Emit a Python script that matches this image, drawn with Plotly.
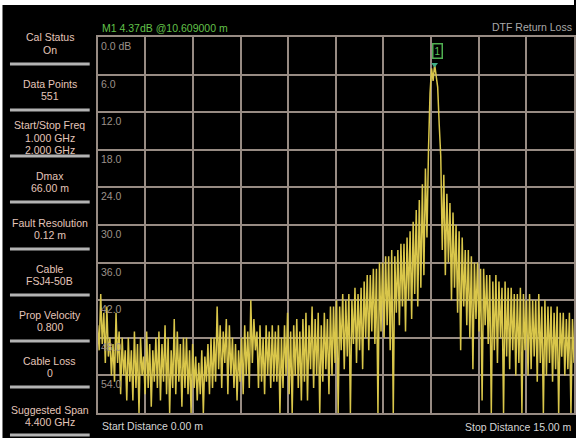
import numpy as np
import plotly.graph_objects as go

# ---------------- data ----------------
return_loss_db = [
    46, 50, 41, 49, 44, 52, 43, 51, 48, 54, 49, 55, 44, 52, 47, 57, 48, 54, 50, 58,
    48, 55, 50, 58, 47, 56, 49, 60, 48, 54, 51, 57, 47, 56, 49, 59, 50, 55,
    48, 56, 47, 58, 49, 55, 46, 57, 48, 60, 50, 56, 45, 57, 47, 55, 49, 59, 48, 56,
    48, 57, 50, 60, 49, 56, 51, 58, 52, 57, 50, 60, 51, 55, 49, 57, 48, 56,
    48, 55, 43, 53, 46, 56, 47, 52, 45, 57, 46, 54, 48, 56, 49, 58, 50, 55, 48, 57,
    46, 54, 47, 56, 42, 52, 45, 50, 47, 56, 46, 55, 48, 57, 46, 54, 47, 56, 46, 55,
    47, 55, 46, 60, 48, 56, 46, 54, 44, 57, 47, 60, 46, 54, 45, 56, 47, 58,
    45, 55, 44, 58, 46, 53, 43, 56, 45, 54, 44, 60, 46, 55, 44, 53, 45, 57, 43, 54,
    43, 52, 42, 60, 43, 50, 41, 53, 42, 51, 41, 60, 42, 49, 40, 52, 41, 50, 40, 53,
    39, 48, 38, 50, 38, 47, 37, 49, 37, 60, 36, 47, 36, 48, 35, 46, 35, 50, 34, 60,
    35, 44, 34, 46, 33, 43, 33, 47, 32, 42, 31, 45, 29.5, 41, 27.6, 43, 26, 40, 23.5, 38,
    21, 32, 18, 9, 5, 7, 4.37, 6, 8, 14, 19, 34, 22, 38, 25, 36, 26.5, 42, 28, 40,
    30, 44, 31, 50, 32, 43, 34, 46, 34, 48, 35, 53, 36, 45, 36, 47, 37, 58, 37, 46,
    38, 49, 38, 60, 39, 50, 38, 52, 39, 48, 40, 60, 39, 51, 40, 53, 40, 50, 41, 54,
    41, 52, 40, 60, 41, 50, 42, 54, 41, 53, 42, 51, 42, 55, 41, 52, 43, 60, 42, 54,
    43, 52, 43, 55, 44, 53, 43, 60, 44, 51, 44, 54, 45, 53, 44, 60, 45, 52,
]
start_distance_m = 0.0
stop_distance_m = 15.0
distance_m = np.linspace(start_distance_m, stop_distance_m, len(return_loss_db))

marker_distance_m = [10.609]
marker_loss_db = [4.37]

y_tick_values = [0, 6, 12, 18, 24, 30, 36, 42, 48, 54]
y_tick_labels = ["0.0 dB", "6.0", "12.0", "18.0", "24.0", "30.0", "36.0", "42.0", "48.0", "54.0"]

panel_titles = ["Cal Status", "Data Points", "Start/Stop Freq", "Dmax", "Fault Resolution",
                "Cable", "Prop Velocity", "Cable Loss", "Suggested Span"]
panel_values = [["On"], ["551"], ["1.000 GHz", "2.000 GHz"], ["66.00 m"], ["0.12 m"],
                ["FSJ4-50B"], ["0.800"], ["0"], ["4.400 GHz"]]

# ---------------- geometry helpers (pixels -> paper) ----------------
W, H = 576, 438
def px_x(x):
    return x / W
def px_y(y):
    return 1 - y / H

PLOT_L, PLOT_T, PLOT_B = 98, 37, 413
FONT = "Liberation Sans, Arial, sans-serif"
GRID = "#978b83"
PANEL_TXT = "#e4c6ba"
FS = 10.5

fig = go.Figure()
fig.add_trace(go.Scatter(
    x=distance_m, y=return_loss_db, mode="lines",
    line=dict(color="#d9c64a", width=1.5), hoverinfo="skip", showlegend=False,
))
fig.add_trace(go.Scatter(
    x=marker_distance_m, y=marker_loss_db, mode="markers",
    marker=dict(symbol="triangle-down", size=6, color="#3fae86"),
    hoverinfo="skip", showlegend=False,
))

annotations = []
# y labels inside grid
for v, lab in zip(y_tick_values, y_tick_labels):
    annotations.append(dict(
        x=px_x(PLOT_L), xref="paper", xanchor="left", xshift=1,
        y=v, yref="y", yanchor="middle", yshift=-9,
        text=lab, showarrow=False, font=dict(family=FONT, size=FS, color="#9c918a"),
    ))

# marker box "1"
annotations.append(dict(
    x=marker_distance_m[0], xref="x", y=2.2, yref="y", xshift=3,
    text="1", showarrow=False, font=dict(family=FONT, size=10, color="#5cc05a"),
    bordercolor="#4fae50", borderwidth=1.5, borderpad=1, bgcolor="black",
))

# header texts
annotations.append(dict(
    x=px_x(100), xref="paper", xanchor="left", y=px_y(28), yref="paper", yanchor="middle",
    text="M1 4.37dB @10.609000 m", showarrow=False,
    font=dict(family=FONT, size=FS, color="#62c24a"),
))
annotations.append(dict(
    x=1, xref="paper", xanchor="right", y=px_y(27), yref="paper", yanchor="middle",
    text="DTF Return Loss", showarrow=False,
    font=dict(family=FONT, size=FS, color="#a9a9a9"),
))
# footer texts
annotations.append(dict(
    x=px_x(100), xref="paper", xanchor="left", y=px_y(426), yref="paper", yanchor="middle",
    text=f"Start Distance {start_distance_m:.2f} m", showarrow=False,
    font=dict(family=FONT, size=FS, color="#d6d6d6"),
))
annotations.append(dict(
    x=px_x(575), xref="paper", xanchor="right", y=px_y(427), yref="paper", yanchor="middle",
    text=f"Stop Distance {stop_distance_m:.2f} m", showarrow=False,
    font=dict(family=FONT, size=FS, color="#d6d6d6"),
))

# left info panel
title_y = [37, 84, 125, 176, 223, 269, 315, 361, 410]
line_gap = [13, 12, 12.5, 12, 12, 11.5, 12, 12, 11.5]
for t, vals, ty, g in zip(panel_titles, panel_values, title_y, line_gap):
    annotations.append(dict(
        x=px_x(50), xref="paper", xanchor="center", y=px_y(ty), yref="paper", yanchor="middle",
        text=t, showarrow=False, font=dict(family=FONT, size=FS, color=PANEL_TXT),
    ))
    for k, val in enumerate(vals):
        annotations.append(dict(
            x=px_x(50), xref="paper", xanchor="center", y=px_y(ty + g * (k + 1)), yref="paper",
            yanchor="middle", text=val, showarrow=False,
            font=dict(family=FONT, size=FS, color=PANEL_TXT),
        ))

shapes = []
# white border strips of the photographed screen
shapes.append(dict(type="rect", xref="paper", yref="paper", x0=0, x1=1, y0=px_y(5), y1=1,
                   fillcolor="white", line=dict(width=0), layer="above"))
shapes.append(dict(type="rect", xref="paper", yref="paper", x0=0, x1=px_x(2.5), y0=0, y1=1,
                   fillcolor="white", line=dict(width=0), layer="above"))
# panel separators
for sy in [64, 110, 156, 202, 249, 295, 341, 387, 435]:
    shapes.append(dict(type="line", xref="paper", yref="paper",
                       x0=px_x(10), x1=px_x(90), y0=px_y(sy), y1=px_y(sy),
                       line=dict(color="#b3b3b3", width=3)))

fig.update_layout(
    width=W, height=H, margin=dict(l=0, r=0, t=0, b=0),
    paper_bgcolor="black", plot_bgcolor="black",
    showlegend=False, annotations=annotations, shapes=shapes,
    xaxis=dict(domain=[px_x(PLOT_L), 1], range=[start_distance_m, stop_distance_m],
               tick0=0, dtick=1.5, showgrid=True, gridcolor=GRID, gridwidth=1.5,
               showline=True, linecolor=GRID, linewidth=1.5, mirror=True,
               zeroline=False, showticklabels=False, ticks=""),
    yaxis=dict(domain=[px_y(PLOT_B), px_y(PLOT_T)], range=[60, 0],
               tickvals=y_tick_values, showgrid=True, gridcolor=GRID, gridwidth=1.5,
               showline=True, linecolor=GRID, linewidth=1.5, mirror=True,
               zeroline=False, showticklabels=False, ticks=""),
)

fig.write_html(
    "out.html",
    config={"displayModeBar": False},
    post_script="document.body.style.margin='0';document.body.style.overflow='hidden';",
)
